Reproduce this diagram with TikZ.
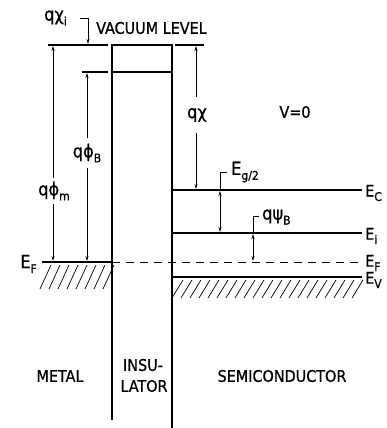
\documentclass[tikz,border=0pt]{standalone}
\usepackage{fontspec}
\setmainfont{DejaVu Sans Condensed}[FakeBold=0.8]
\usetikzlibrary{arrows.meta}
\newcommand\lsub[1]{\raisebox{-0.5ex}{\fontsize{12}{12}\selectfont #1}}
\begin{document}
\begin{tikzpicture}[x=1pt,y=-1pt,
  lvl/.style={line width=1.8pt},
  wall/.style={line width=1.3pt},
  thin/.style={line width=0.8pt},
  tipA/.style={-{Stealth[length=5pt,width=3pt]}},
  tipB/.style={{Stealth[length=5pt,width=3pt]}-{Stealth[length=5pt,width=3pt]}},
  tipS/.style={{Stealth[length=5pt,width=3pt]}-},
  hatch/.style={line width=0.7pt},
  lbl/.style={inner sep=0pt, font=\fontsize{16}{16}\selectfont},
  grk/.style={inner sep=0pt, font=\fontsize{18}{18}\selectfont},
  big/.style={inner sep=0pt, font=\fontsize{16}{16}\selectfont}]
\useasboundingbox (0,0) rectangle (387,428);
\clip (0,0) rectangle (387,428);

% vacuum level
\draw[lvl] (48,45) -- (108,45);
\draw[lvl] (175,45) -- (204,45);
\draw[wall] (112,420) -- (112,45) -- (172,45) -- (172,428);
\draw[wall] (112,72) -- (172,72);
\draw[wall] (82,72) -- (108,72);

% metal Fermi level
\draw[lvl] (42,262) -- (112,262);
\foreach \x in {40,49,...,103} \draw[hatch] (\x,289) -- (\x+11,265);
% semiconductor levels
\draw[lvl] (172,190) -- (362,190);
\draw[lvl] (172,233) -- (362,233);
\draw[thin,dash pattern=on 8pt off 6pt] (112,262) -- (362,262);
\draw[lvl] (172,277) -- (362,277);
\foreach \x in {172,181,...,352} \draw[hatch] (\x,298) -- (\x+11,280);

% dimension arrows
\draw[thin,tipS] (53,46) -- (53,178);
\draw[thin,tipA] (53,204) -- (53,261);
\draw[thin,tipS] (87,73) -- (87,138);
\draw[thin,tipA] (87,168) -- (87,261);
\draw[thin,tipS] (196,46) -- (196,97);
\draw[thin,tipA] (196,133) -- (196,189);
\draw[thin,tipB] (220,191) -- (220,232);
\draw[thin] (220,191) -- (220,172) -- (227,172);
\draw[thin,tipB] (253,234) -- (253,261);
\draw[thin] (253,234) -- (253,216) -- (259,216);
\draw[thin,tipA] (80,18) -- (88,18) -- (88,44);

% labels
\node[grk,anchor=west] (chii) at (44,18) {qχ\lsub{i}};
\node[lbl,anchor=west] (vac) at (96,28) {VACUUM LEVEL};
\node[grk] (phib) at (87,153) {qϕ\lsub{B}};
\node[grk] (phim) at (54,191) {qϕ\lsub{m}};
\node[grk] (chi) at (197,115) {qχ};
\node[lbl] (v0) at (295,112) {V=0};
\node[grk,anchor=west] (eg) at (231,172) {E\lsub{g/2}};
\node[grk,anchor=west] (psib) at (262,217) {qψ\lsub{B}};
\node[grk,anchor=east] (efm) at (37,264) {E\lsub{F}};
\node[big,anchor=west] (ec) at (365,193) {E\lsub{C}};
\node[big,anchor=west] (ei) at (365,236) {E\lsub{i}};
\node[big,anchor=west] (ef) at (365,263) {E\lsub{F}};
\node[big,anchor=west] (ev) at (365,280) {E\lsub{V}};
\node[lbl] (metal) at (60,376) {METAL};
\node[lbl] (ins1) at (143,365) {INSU-};
\node[lbl] (ins2) at (144,386) {LATOR};
\node[lbl] (semi) at (282,376) {SEMICONDUCTOR};
\end{tikzpicture}
\end{document}
